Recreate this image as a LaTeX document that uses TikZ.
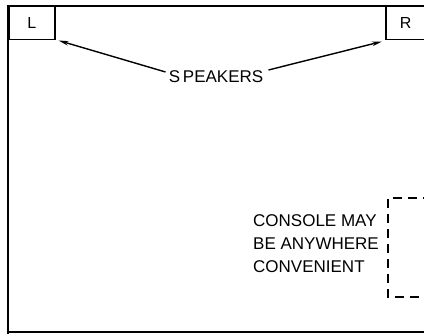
\documentclass[tikz,border=0pt]{standalone}
\usepackage{fontspec}
\setmainfont{Liberation Sans}
\usetikzlibrary{arrows.meta}
\begin{document}
\begin{tikzpicture}[x=1pt,y=-1pt,
  wall/.style={line width=1.8pt},
  spk/.style={draw,line width=1.5pt,minimum width=46pt,minimum height=33pt,inner sep=0pt},
  lbl/.style={font=\fontsize{17}{23}\selectfont,inner sep=0pt},
  ptr/.style={line width=1.4pt,-{Stealth[length=10pt,width=4.5pt]}},
  cons/.style={line width=1.7pt,dash pattern=on 9pt off 6pt}]
\useasboundingbox (0,0) rectangle (424,334);
\draw[wall] (8,334) -- (8,6) -- (430,6);
\draw[wall] (8,332) -- (430,332);
\node[spk,anchor=north west] (L) at (8,6) {\fontsize{16}{18}\selectfont L};
\node[spk,anchor=north west,minimum width=50pt] (R) at (385,6) {\hspace*{-10pt}\fontsize{16}{18}\selectfont R};
\node[lbl] (S) at (216,77) {S\,PEAKERS};
\draw[ptr] (S.west) ++(-3,-5) coordinate (sl) -- ([xshift=3pt,yshift=0pt]L.south east);
\draw[ptr] (S.east) ++(5,-7) coordinate (sr) -- ([xshift=-3pt,yshift=-1pt]R.south west);
\node[lbl,align=left,anchor=north west] (C) at (253,214) {CONSOLE MAY\\BE ANYWHERE\\CONVENIENT};
\coordinate (c1) at (432,198);
\coordinate (c2) at (432,297);
\draw[cons] (c1) -- (388,198) -- (388,297) -- (c2);
\end{tikzpicture}
\end{document}
